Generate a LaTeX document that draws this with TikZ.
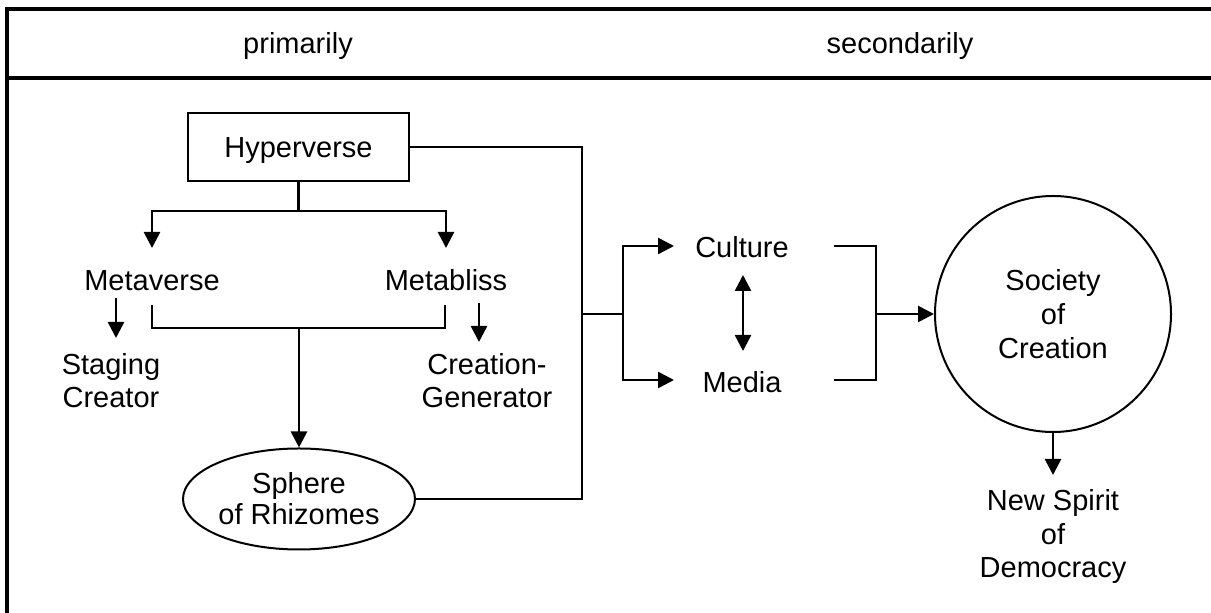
\documentclass[tikz,border=0pt]{standalone}
\usepackage{fontspec}
\setmainfont{Liberation Sans}
\usetikzlibrary{arrows.meta,shapes.geometric}
\begin{document}
\begin{tikzpicture}[x=0.5pt,y=-0.5pt,
  every node/.style={font=\fontsize{14.5}{16.5}\selectfont, inner sep=0pt},
  lbl/.style={text height=10.4pt, text depth=0pt},
  ml/.style={align=center},
  thinline/.style={line width=1pt},
  conn/.style={line width=1.3pt},
  arr/.style={conn, -{Triangle[width=8pt,length=8pt]}},
  darr/.style={conn, {Triangle[width=8pt,length=8pt]}-{Triangle[width=8pt,length=8pt]}},
  tblframe/.style={line width=2pt},
  shapeline/.style={draw, line width=1pt},
]
\useasboundingbox (0,0) rectangle (1211,613);

% table frame
\draw[tblframe] (1211,8.7) -- (7,8.7) -- (7,613);
\draw[tblframe] (7,78) -- (1211,78);

% headers
\node[lbl] (prim) at (298,43.5) {primarily};
\node[lbl] (sec) at (900,43.5) {secondarily};

% nodes
\node[shapeline, minimum width=110.5pt, minimum height=34pt, lbl] (hyp) at (298.5,147) {Hyperverse};
\node[lbl] (meta) at (152,280.5) {Metaverse};
\node[lbl] (bliss) at (446,280.5) {Metabliss};
\node[ml] (stag) at (111,381) {Staging\\Creator};
\node[ml] (cgen) at (487,381) {Creation-\\Generator};
\node[shapeline, ellipse, minimum width=116pt, minimum height=50.5pt, ml,
      font=\fontsize{14.5}{15.5}\selectfont] (sph) at (299,499) {Sphere\\of Rhizomes};
\node[lbl] (cul) at (742,247) {Culture};
\node[lbl] (med) at (742,382) {Media};
\node[shapeline, circle, minimum size=118pt, ml,
      font=\fontsize{14.5}{17}\selectfont] (soc) at (1053,314) {Society\\of\\Creation};
\node[ml, font=\fontsize{14.5}{16.75}\selectfont] (nsd) at (1053,537) {New Spirit\\of\\Democracy};

% coordinates
\coordinate (hb) at (298.5,211);
\coordinate (mtip) at (152,248);
\coordinate (btip) at (446,248);
\coordinate (ms) at (116,298);
\coordinate (me) at (116,338);
\coordinate (bs) at (479,303);
\coordinate (be) at (479,342);
\coordinate (bl) at (152,305);
\coordinate (bm) at (299,328);
\coordinate (br) at (445,305);
\coordinate (jm) at (582,314);
\coordinate (jm2) at (623,314);
\coordinate (ctip) at (674,246);
\coordinate (mtip2) at (674,380);
\coordinate (cr) at (834,246);
\coordinate (mr) at (834,380);
\coordinate (rb) at (876,314);
\coordinate (du) at (743,275);
\coordinate (dd) at (743,351);
\coordinate (ntip) at (1053,475);

% connectors
\draw[conn] (hyp.south) -- (hb);
\draw[arr] (hb) -| (mtip);
\draw[arr] (hb) -| (btip);
\draw[arr] (ms) -- (me);
\draw[arr] (bs) -- (be);
\draw[conn] (bl) |- (bm) -| (br);
\draw[arr] (bm) -- (sph.north);
\draw[thinline] (hyp.east) -| (jm) |- (sph.east);
\draw[thinline] (jm) -- (jm2);
\draw[arr] (jm2) |- (ctip);
\draw[arr] (jm2) |- (mtip2);
\draw[darr] (du) -- (dd);
\draw[conn] (cr) -| (rb) |- (mr);
\draw[arr] (rb) -- (rb -| soc.west);
\draw[arr] (soc.south) -- (ntip);
\end{tikzpicture}
\end{document}
